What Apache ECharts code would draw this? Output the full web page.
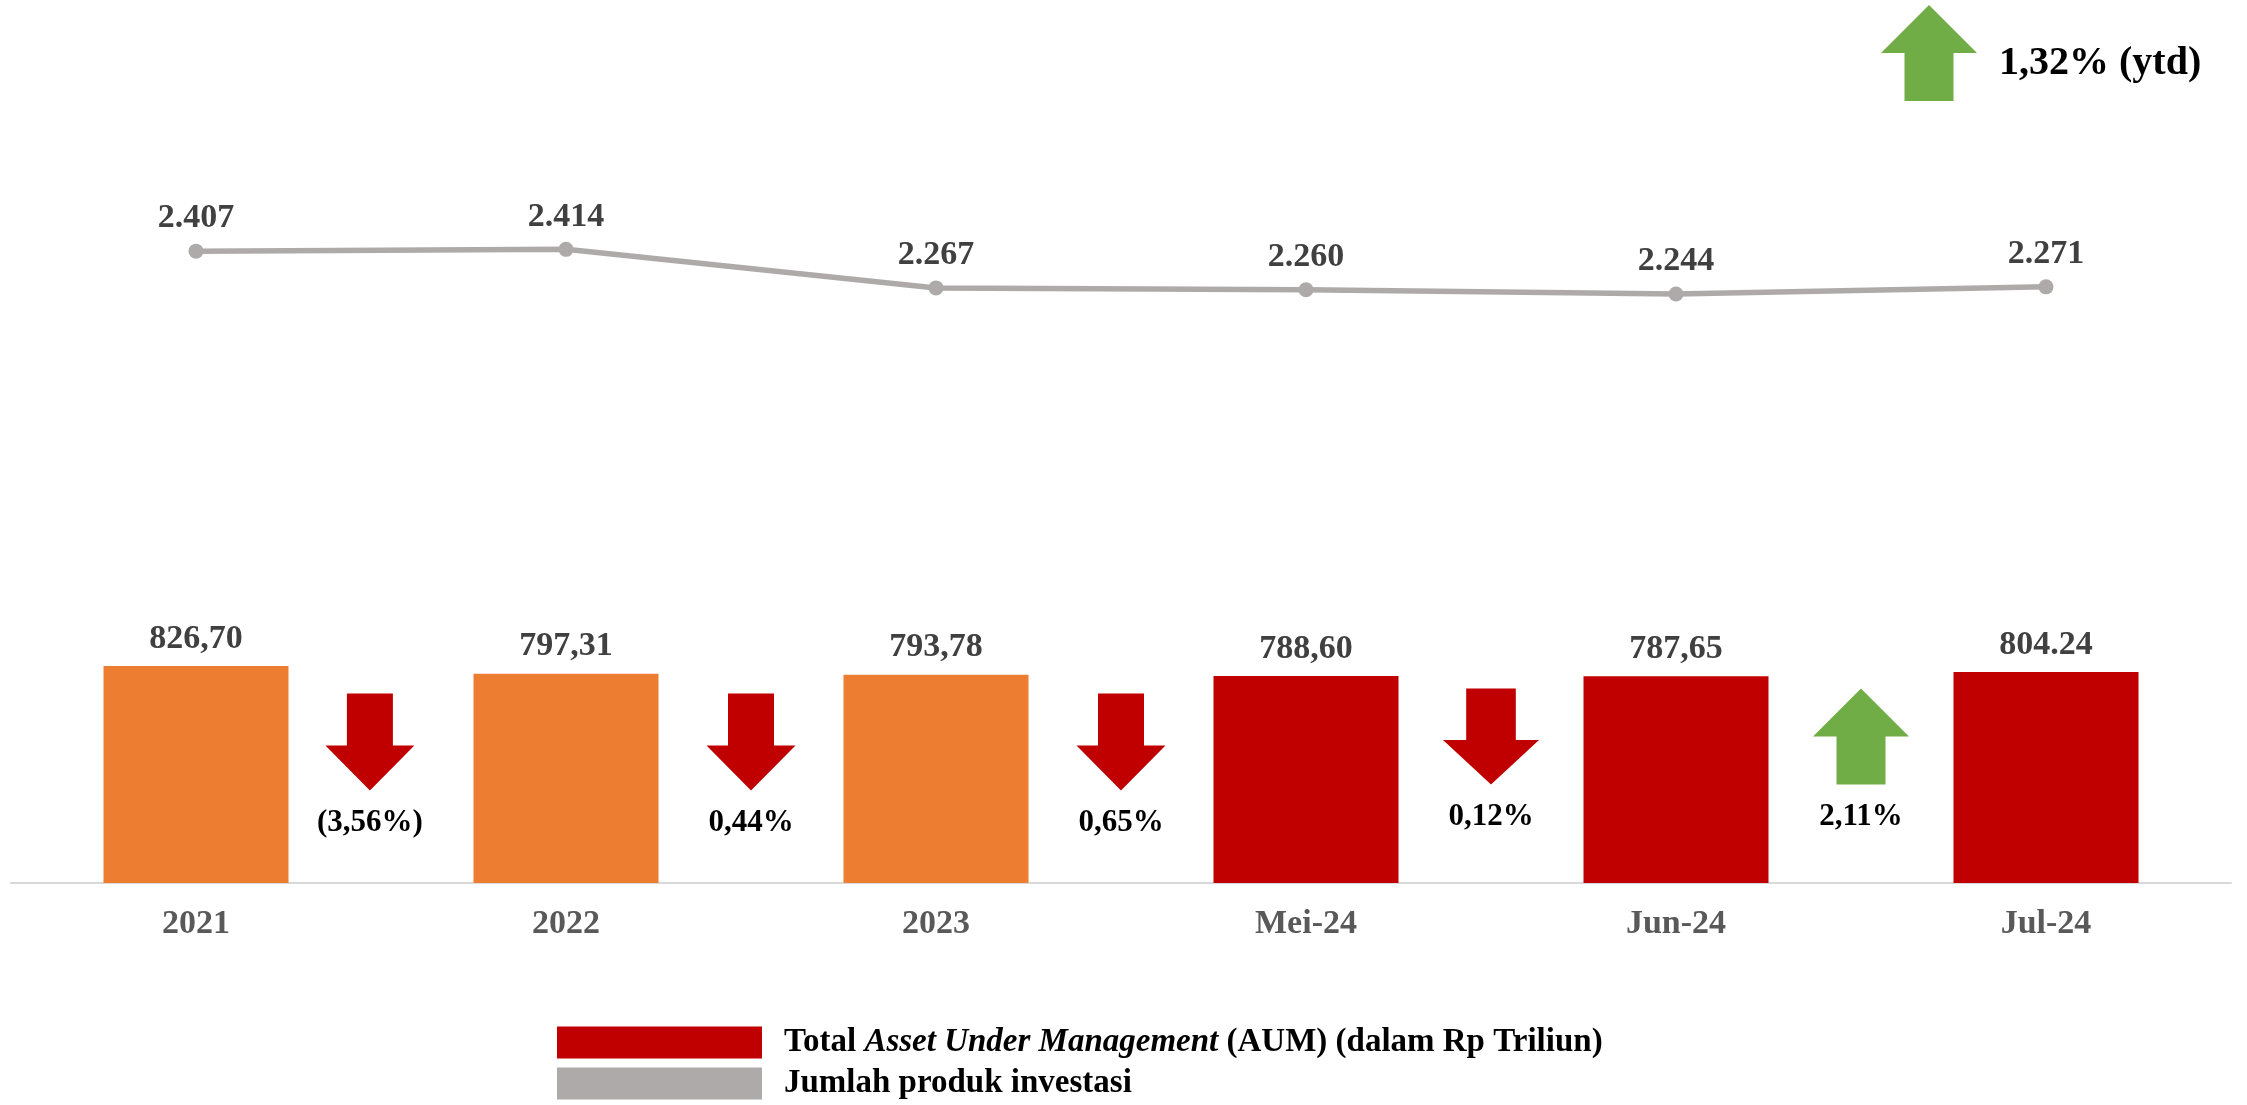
<!DOCTYPE html>
<html>
<head>
<meta charset="utf-8">
<script src="https://cdn.jsdelivr.net/npm/echarts@6/dist/echarts.min.js"></script>
<style>
  html, body { margin: 0; padding: 0; background: #fff; }
  #main { width: 2247px; height: 1105px; }
</style>
</head>
<body>
<div id="main"></div>
<script>
var categories = ['2021', '2022', '2023', 'Mei-24', 'Jun-24', 'Jul-24'];
var aumValues = [826.70, 797.31, 793.78, 788.60, 787.65, 804.24];
var aumLabels = ['826,70', '797,31', '793,78', '788,60', '787,65', '804.24'];
var productValues = [2407, 2414, 2267, 2260, 2244, 2271];
var productLabels = ['2.407', '2.414', '2.267', '2.260', '2.244', '2.271'];
// perubahan antar periode (panah di antara batang)
var changeX = [0.47, 1.5, 2.5, 3.5, 4.5];
var changeY = [537, 537, 537, 558, 558];
var changeLabels = ['(3,56%)', '0,44%', '0,65%', '0,12%', '2,11%'];
var changeUp = [false, false, false, false, true];

var FONT = '"Liberation Serif", "DejaVu Serif", serif';
var ORANGE = '#ED7D31', RED = '#C00000', GREEN = '#70AD47', GRAY = '#AEAAAA';

var arrowDown = 'path://M21.5 0 L67.5 0 L67.5 52 L89 52 L44.5 97 L0 52 L21.5 52 Z';
var arrowUp = 'path://M48 0 L96 48 L72.5 48 L72.5 96 L23.5 96 L23.5 48 L0 48 Z';

var myChart = echarts.init(document.getElementById('main'));

var barData = aumValues.map(function (v, i) {
    return { value: v, itemStyle: { color: i < 3 ? ORANGE : RED } };
});
var changeData = changeX.map(function (x, i) {
    return {
        value: [x, changeY[i]],
        symbol: changeUp[i] ? arrowUp : arrowDown,
        symbolSize: i < 3 ? [89, 97] : [96, 96],
        itemStyle: { color: changeUp[i] ? GREEN : RED, opacity: 1 }
    };
});

var option = {
    animation: false,
    grid: { left: 11, right: 16, top: 95.5, bottom: 222 },
    legend: {
        orient: 'vertical',
        left: 557,
        top: 1026,
        padding: 0,
        itemWidth: 205,
        itemHeight: 32,
        itemGap: 8,
        icon: 'rect',
        data: ['aum', 'produk'],
        formatter: function (name) {
            if (name === 'aum') {
                return '{b|Total }{i|Asset Under Management}{b| (AUM) (dalam Rp Triliun)}';
            }
            return '{b|Jumlah produk investasi}';
        },
        textStyle: {
            rich: {
                b: { fontFamily: FONT, fontWeight: 'bold', fontSize: 33, color: '#000', lineHeight: 32 },
                i: { fontFamily: FONT, fontWeight: 'bold', fontStyle: 'italic', fontSize: 33, color: '#000', lineHeight: 32 }
            },
            padding: [0, 0, 0, 17]
        }
    },
    xAxis: [
        {
            type: 'category',
            data: categories,
            axisTick: { show: false },
            axisLine: { lineStyle: { color: '#D9D9D9', width: 2 } },
            axisLabel: {
                margin: 24,
                fontFamily: FONT,
                fontWeight: 'bold',
                fontSize: 34,
                color: '#595959'
            }
        },
        {
            type: 'value',
            min: -0.5,
            max: 5.5,
            show: false
        }
    ],
    yAxis: {
        type: 'value',
        min: 0,
        max: 3000,
        show: false,
        splitLine: { show: false }
    },
    series: [
        {
            name: 'aum',
            type: 'bar',
            barWidth: '50%',
            itemStyle: { color: RED },
            data: barData,
            label: {
                show: true,
                position: 'top',
                distance: 10,
                fontFamily: FONT,
                fontWeight: 'bold',
                fontSize: 34,
                color: '#404040',
                formatter: function (p) { return aumLabels[p.dataIndex]; }
            }
        },
        {
            name: 'produk',
            type: 'line',
            data: productValues,
            symbol: 'circle',
            symbolSize: 15,
            itemStyle: { color: GRAY },
            lineStyle: { color: GRAY, width: 5.5 },
            label: {
                show: true,
                position: 'top',
                distance: 8,
                fontFamily: FONT,
                fontWeight: 'bold',
                fontSize: 34,
                color: '#404040',
                formatter: function (p) { return productLabels[p.dataIndex]; }
            }
        },
        {
            name: 'change',
            type: 'scatter',
            xAxisIndex: 1,
            data: changeData,
            label: {
                show: true,
                position: 'bottom',
                distance: 17,
                fontFamily: FONT,
                fontWeight: 'bold',
                fontSize: 31,
                color: '#000',
                formatter: function (p) { return changeLabels[p.dataIndex]; }
            }
        }
    ],
    graphic: [
        {
            type: 'polygon',
            shape: {
                points: [[1929, 5], [1977, 53], [1953.5, 53], [1953.5, 101], [1904.5, 101], [1904.5, 53], [1881, 53]]
            },
            style: { fill: GREEN }
        },
        {
            type: 'text',
            left: 1999,
            top: 44,
            style: {
                text: '1,32% (ytd)',
                fontFamily: FONT,
                fontWeight: 'bold',
                fontSize: 40,
                fill: '#000'
            }
        }
    ]
};
myChart.setOption(option);
window.onresize = myChart.resize;
</script>
</body>
</html>
